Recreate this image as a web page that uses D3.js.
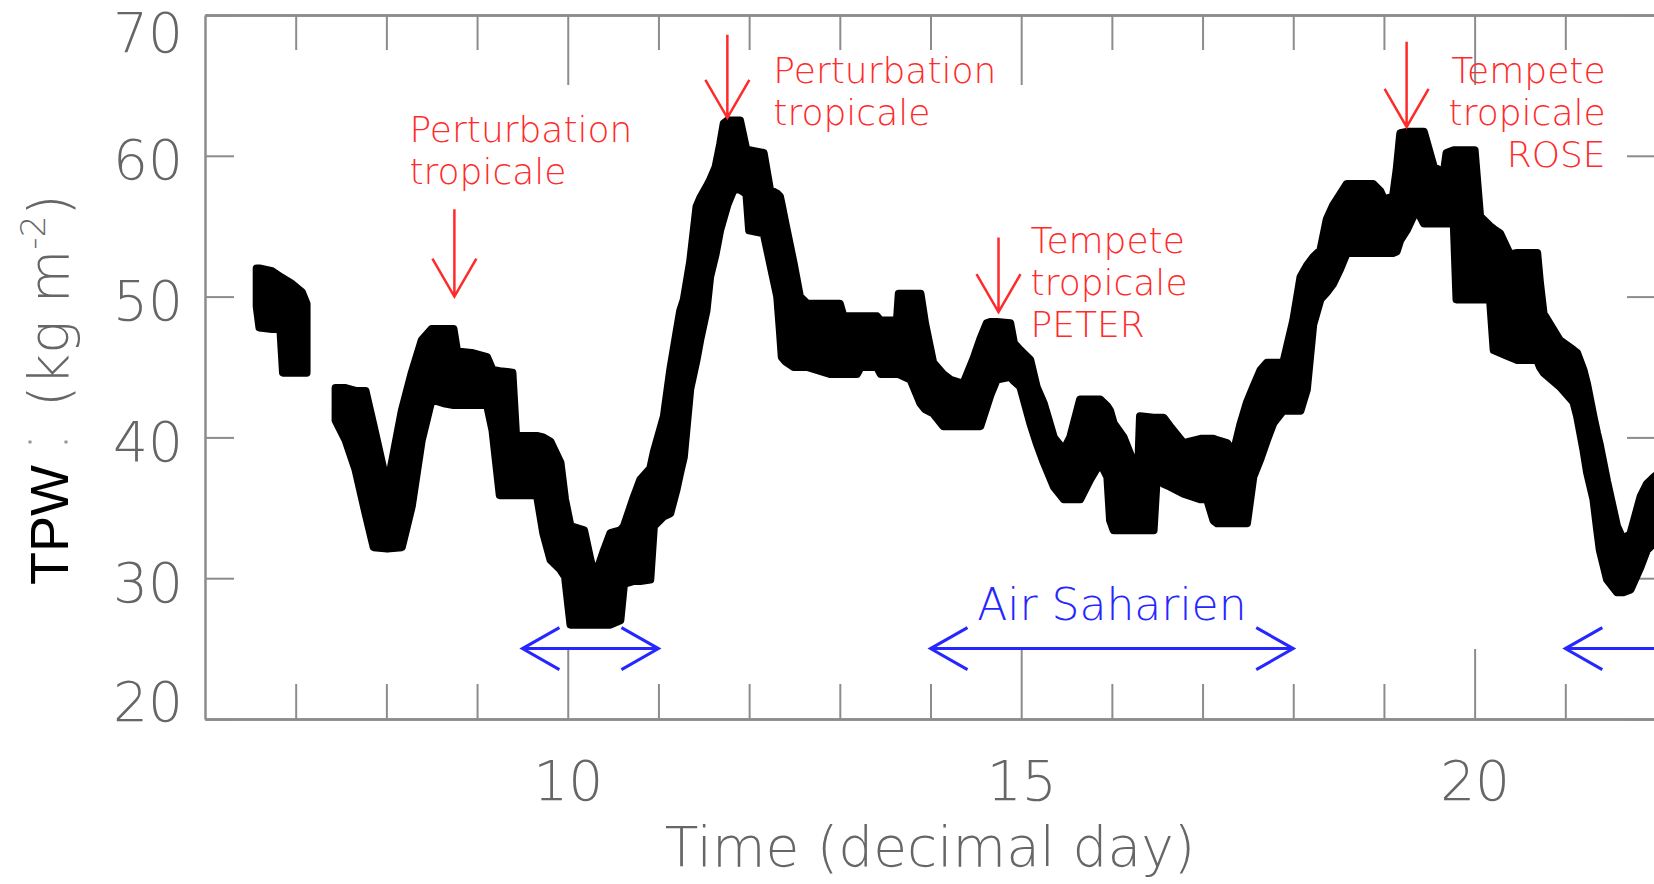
<!DOCTYPE html>
<html>
<head>
<meta charset="utf-8">
<script src="https://cdn.jsdelivr.net/npm/d3@7"></script>
<style>
  body { margin: 0; background: #fff; }
  svg { display: block; }
  .hershey { font-family: 'DejaVu Sans ExtraLight', 'DejaVu Sans', sans-serif; font-weight: 200; }
</style>
</head>
<body>
<svg width="1654" height="884"></svg>
<script>
(function (d3) {
  'use strict';

  // TPW band: day, upper edge, lower edge (null = data gap)
  const days = [
    6.57, 6.60, 6.74, 6.83, 6.86, 6.96, 7.07, 7.12, 7.28,
    7.44, 7.55, 7.66, 7.77, 7.86, 8.01, 8.17, 8.28, 8.39, 8.50, 8.65, 8.74, 8.78, 8.94, 9.11, 9.17, 9.25, 9.39, 9.43, 9.66,
    9.73, 9.81, 9.92, 9.97, 10.03, 10.18, 10.25, 10.30, 10.40, 10.47, 10.58, 10.62, 10.73, 10.80, 10.91, 10.95, 11.06, 11.13,
    11.20, 11.24, 11.28, 11.35, 11.42, 11.46, 11.53, 11.57, 11.63, 11.68, 11.72, 11.76, 11.83, 11.90, 11.97, 12.00, 12.16,
    12.23, 12.31, 12.34, 12.36, 12.40, 12.49, 12.56, 12.64, 12.89, 13.00, 13.04, 13.19, 13.23, 13.41, 13.45, 13.63, 13.65,
    13.78, 13.89, 13.94, 14.03, 14.14, 14.22, 14.36, 14.48, 14.55, 14.62, 14.66, 14.73, 14.88, 14.92, 14.99, 15.10, 15.17,
    15.25, 15.36, 15.47, 15.54, 15.65, 15.76, 15.87, 15.95, 15.98, 16.02, 16.13, 16.24, 16.29, 16.31, 16.46, 16.50, 16.57,
    16.64, 16.79, 16.98, 17.05, 17.12, 17.16, 17.27, 17.34, 17.42, 17.49, 17.56, 17.64, 17.71, 17.78, 17.89, 18.00, 18.08,
    18.15, 18.22, 18.30, 18.37, 18.44, 18.52, 18.59, 18.88, 18.96, 19.00, 19.10, 19.14, 19.18, 19.25, 19.36, 19.44, 19.55,
    19.66, 19.69, 19.77, 19.80, 20.00, 20.06, 20.17, 20.21, 20.28, 20.39, 20.47, 20.69, 20.72, 20.76, 20.94, 21.09, 21.13,
    21.20, 21.24, 21.31, 21.35, 21.38, 21.46, 21.57, 21.64, 21.72, 21.83, 21.90, 21.98, 22.02
  ];
  const tpwUpper = [
    52.0, 52.0, 51.8, 51.4, 51.3, 50.9, 50.3, 49.5, null,
    43.5, 43.5, 43.3, 43.3, 40.8, 36.5, 41.9, 44.6, 46.9, 47.7, 47.7, 47.7, 46.1, 46.0, 45.7, 44.8, 44.7, 44.6, 40.1, 40.1,
    40.0, 39.7, 38.2, 35.6, 33.7, 33.4, 31.3, 30.1, 32.0, 33.2, 33.4, 33.7, 35.8, 37.0, 37.8, 39.0, 41.5, 44.8,
    47.5, 49.0, 49.8, 52.5, 56.4, 57.0, 57.8, 58.3, 59.2, 60.8, 62.3, 62.5, 62.5, 62.5, 60.4, 60.4, 60.2,
    57.6, 57.3, 57.1, 56.5, 55.2, 52.4, 50.0, 49.5, 49.5, 49.5, 48.6, 48.6, 48.6, 48.6, 48.3, 48.3, 50.2,
    50.2, 50.2, 48.1, 45.3, 44.5, 44.1, 43.8, 45.7, 47.0, 48.1, 48.2, 48.2, 48.1, 46.7, 46.2, 45.5, 43.6,
    42.4, 40.0, 39.1, 40.0, 42.7, 42.7, 42.7, 42.2, 41.9, 41.0, 40.0, 38.2, 37.8, 41.5, 41.4, 41.4, 41.4,
    40.8, 39.6, 39.9, 39.9, 39.9, 39.8, 39.6, 38.9, 41.0, 42.5, 43.6, 44.8, 45.3, 45.3, 45.3, 48.3, 51.4,
    52.2, 52.8, 53.3, 55.5, 56.5, 57.3, 58.0, 58.0, 57.5, 56.9, 57.1, 59.0, 61.6, 61.7, 61.7, 61.7, 59.2,
    58.8, 60.2, 60.4, 60.4, 60.4, 55.7, 55.0, 54.8, 54.5, 53.0, 53.1, 53.1, 51.0, 48.8, 46.9, 46.2, 46.0,
    44.8, 43.8, 41.5, 40.3, 39.5, 36.9, 33.7, 32.7, 33.2, 35.8, 36.7, 37.2, 37.4
  ];
  const tpwLower = [
    49.3, 47.8, 47.7, 47.8, 44.6, 44.6, 44.6, 44.6, null,
    41.2, 39.8, 37.7, 34.6, 32.2, 32.1, 32.2, 35.1, 39.8, 42.7, 42.4, 42.3, 42.3, 42.3, 42.3, 40.5, 35.9, 35.9, 35.9, 35.9,
    33.2, 31.3, 30.6, 30.1, 26.7, 26.7, 26.7, 26.7, 26.7, 26.7, 27.0, 29.6, 29.8, 29.8, 29.9, 33.7, 34.4, 34.6,
    36.3, 37.5, 38.6, 43.4, 45.5, 46.9, 49.0, 51.4, 53.0, 54.7, 55.6, 56.5, 57.6, 57.6, 57.3, 54.7, 54.5,
    52.4, 50.0, 47.5, 45.7, 45.4, 45.0, 45.0, 45.0, 44.5, 44.5, 44.5, 44.5, 45.0, 45.0, 44.5, 44.5, 44.5,
    44.1, 42.4, 42.0, 41.7, 40.8, 40.8, 40.8, 40.8, 40.8, 42.2, 43.0, 44.1, 44.3, 44.0, 43.6, 41.0, 39.6,
    38.2, 36.5, 35.6, 35.6, 35.6, 37.0, 38.2, 37.2, 34.1, 33.4, 33.4, 33.4, 33.4, 33.4, 33.4, 37.7, 36.7,
    36.5, 36.0, 35.6, 35.6, 34.1, 33.9, 33.9, 33.9, 33.9, 33.9, 37.2, 38.5, 39.8, 41.0, 41.9, 41.9, 41.9,
    43.4, 48.0, 49.8, 50.3, 50.9, 52.0, 53.1, 53.1, 53.1, 53.1, 53.1, 53.2, 54.0, 54.7, 56.2, 55.2, 55.2,
    55.2, 55.2, 55.2, 49.8, 49.8, 49.8, 49.8, 46.2, 46.0, 45.7, 45.5, 45.5, 45.0, 44.6, 43.6, 42.5, 41.5,
    39.1, 37.5, 35.6, 33.5, 32.0, 29.9, 29.0, 29.0, 29.2, 30.8, 32.0, 32.5, 33.0
  ];

  // axis ticks
  const yTicks = [20, 30, 40, 50, 60, 70];
  const xMajor = [10, 15, 20];
  const xMinor = [7, 8, 9, 11, 12, 13, 14, 16, 17, 18, 19, 21];

  // red event arrows (day, arrow top, arrow tip in kg m-2) and their labels
  const eventDays = [8.75, 11.76, 14.75, 19.25];
  const eventArrowTop = [56.2, 68.6, 54.2, 68.1];
  const eventArrowTip = [50.0, 62.7, 48.9, 62.05];
  const eventLabels = [
    ['Perturbation', 'tropicale'],
    ['Perturbation', 'tropicale'],
    ['Tempete', 'tropicale', 'PETER'],
    ['Tempete', 'tropicale', 'ROSE']
  ];

  // blue Saharan air spans
  const airStart = [9.5, 14, 21];
  const airEnd = [11, 18, 23];
  const airLevel = 25;
  const airLabel = 'Air Saharien';

  const svg = d3.select('svg');
  const x = d3.scaleLinear().domain([6, 22]).range([205, 1656]);
  const y = d3.scaleLinear().domain([20, 70]).range([719, 15]);

  const axisGrey = '#8c8c8c';
  const textGrey = '#666';
  const red = '#ff2a2a';
  const blue = '#2626ff';

  const styleAxis = g => {
    g.attr('font-family', null).attr('font-size', 55).attr('class', 'hershey');
    g.selectAll('.domain').attr('stroke', axisGrey).attr('stroke-width', 2.5);
    g.selectAll('.tick line').attr('stroke', axisGrey).attr('stroke-width', 2);
    g.selectAll('.tick text').attr('fill', textGrey);
  };

  // bottom + top axes, minor then major ticks
  [[d3.axisBottom, 719], [d3.axisTop, 15]].forEach(([axisFn, ty]) => {
    svg.append('g')
      .attr('transform', `translate(0,${ty})`)
      .call(axisFn(x).tickValues(xMinor).tickSize(-35).tickSizeOuter(0).tickFormat(''))
      .call(styleAxis);
    svg.append('g')
      .attr('transform', `translate(0,${ty})`)
      .call(axisFn(x).tickValues(xMajor).tickSize(-70).tickSizeOuter(0).tickPadding(42)
        .tickFormat(ty === 719 ? d3.format('d') : ''))
      .call(styleAxis);
  });

  const yAxisG = svg.append('g')
    .attr('transform', 'translate(205,0)')
    .call(d3.axisLeft(y).tickValues(yTicks).tickSize(-29).tickSizeOuter(0).tickPadding(22))
    .call(styleAxis);
  // end labels are pulled inside the frame, as in the original plot
  yAxisG.selectAll('.tick text')
    .attr('dy', d => d === 70 ? '0.67em' : d === 20 ? '0.02em' : '0.42em');

  svg.append('g')
    .attr('transform', 'translate(1656,0)')
    .call(d3.axisRight(y).tickValues(yTicks).tickSize(-29).tickSizeOuter(0).tickFormat(''))
    .call(styleAxis);

  // axis titles
  svg.append('text')
    .attr('class', 'hershey')
    .attr('x', 930)
    .attr('y', 866)
    .attr('text-anchor', 'middle')
    .attr('font-size', 55)
    .attr('fill', textGrey)
    .text('Time (decimal day)');

  const yTitle = svg.append('g').attr('transform', 'translate(68,0) rotate(-90)');
  yTitle.append('text')
    .attr('x', -585)
    .attr('font-family', "'Liberation Sans', Arial, sans-serif")
    .attr('font-size', 54)
    .attr('fill', '#000')
    .text('TPW');
  // two faint dots left over between TPW and the unit in the original
  yTitle.selectAll('circle.dot')
    .data([30, 66])
    .enter().append('circle')
      .attr('class', 'dot')
      .attr('cx', -442)
      .attr('cy', d => d - 68)
      .attr('r', 1.8)
      .attr('fill', '#999');
  const unit = yTitle.append('text')
    .attr('class', 'hershey')
    .attr('x', -407)
    .attr('font-size', 55)
    .attr('fill', textGrey);
  unit.append('tspan').text('(kg m');
  unit.append('tspan').attr('font-size', 34).attr('dy', -23).text('-2');
  unit.append('tspan').attr('dy', 23).text(')');

  // TPW band (thick outline mimics the pen width of the dense raw trace)
  const tpw = days.map((d, i) => ({ day: d, hi: tpwUpper[i], lo: tpwLower[i] }));
  const band = d3.area()
    .defined(d => d.hi != null)
    .x(d => x(d.day))
    .y0(d => y(d.lo))
    .y1(d => y(d.hi));
  svg.append('path')
    .datum(tpw)
    .attr('d', band)
    .attr('fill', '#000')
    .attr('stroke', '#000')
    .attr('stroke-width', 8)
    .attr('stroke-linejoin', 'round');

  // red event arrows
  const labelLayout = [
    { dx: -45, y: 142, anchor: 'start' },
    { dx: 46, y: 83, anchor: 'start' },
    { dx: 32, y: 253, anchor: 'start' },
    { dx: 199, y: 83, anchor: 'end' }
  ];
  eventDays.forEach((d, i) => {
    const ax = x(d);
    const yTop = y(eventArrowTop[i]);
    const yTip = y(eventArrowTip[i]);
    svg.append('path')
      .attr('d', `M${ax},${yTop}V${yTip}M${ax - 22},${yTip - 38}L${ax},${yTip}L${ax + 22},${yTip - 38}`)
      .attr('fill', 'none')
      .attr('stroke', red)
      .attr('stroke-width', 2.5);
    const lay = labelLayout[i];
    const t = svg.append('text')
      .attr('class', 'hershey')
      .attr('font-size', 36)
      .attr('fill', red)
      .attr('text-anchor', lay.anchor);
    eventLabels[i].forEach((line, j) => {
      t.append('tspan')
        .attr('x', ax + lay.dx)
        .attr('y', lay.y + j * 42)
        .text(line);
    });
  });

  // blue double arrows
  const ay = y(airLevel);
  airStart.forEach((s, i) => {
    const x0 = x(s), x1 = x(airEnd[i]);
    svg.append('path')
      .attr('d', `M${x0},${ay}H${x1}` +
        `M${x0 + 37},${ay - 21}L${x0},${ay}L${x0 + 37},${ay + 21}` +
        `M${x1 - 37},${ay - 21}L${x1},${ay}L${x1 - 37},${ay + 21}`)
      .attr('fill', 'none')
      .attr('stroke', blue)
      .attr('stroke-width', 3);
  });
  svg.append('text')
    .attr('class', 'hershey')
    .attr('x', x((airStart[1] + airEnd[1]) / 2))
    .attr('y', 620)
    .attr('text-anchor', 'middle')
    .attr('font-size', 44)
    .attr('fill', blue)
    .text(airLabel);

}(d3));
</script>
</body>
</html>
